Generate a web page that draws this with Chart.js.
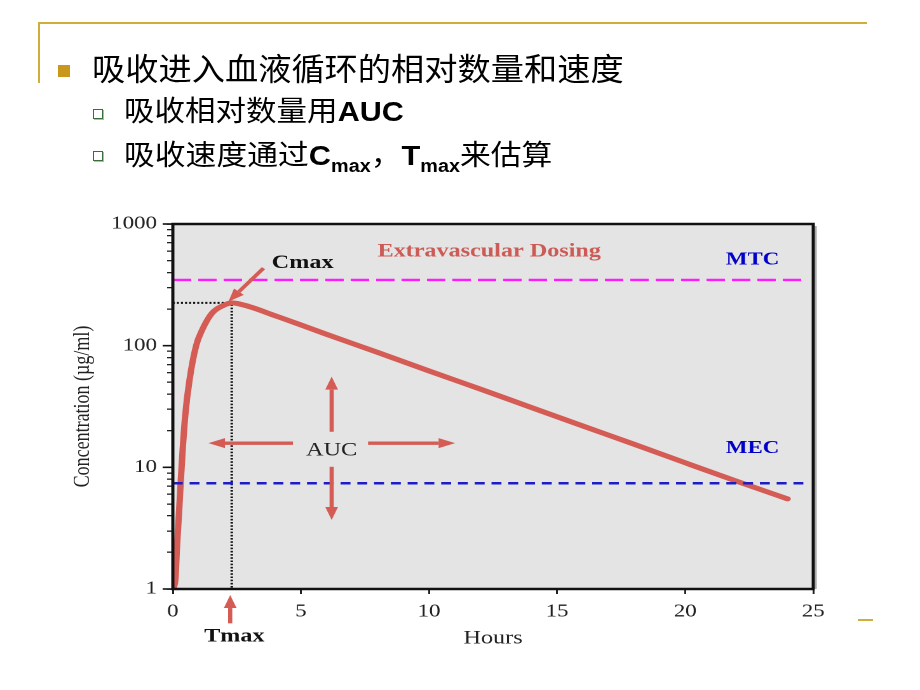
<!DOCTYPE html>
<html>
<head>
<meta charset="utf-8">
<title>吸收进入血液循环的相对数量和速度</title>
<script src="https://cdn.jsdelivr.net/npm/chart.js@4.4.1/dist/chart.umd.min.js"></script>
<style>
  html, body { margin: 0; padding: 0; background: #fff; }
  #slide { position: relative; width: 920px; height: 690px; overflow: hidden; background: #fff; }
  .rule-top { position: absolute; left: 38px; top: 22px; width: 829px; height: 2px; background: #cfae3c; }
  .rule-side { position: absolute; left: 38px; top: 22px; width: 2px; height: 61px; background: #cfae3c; }
  .rule-foot { position: absolute; left: 858px; top: 619px; width: 15px; height: 2px; background: #cfae3c; }
  .bullet { position: absolute; left: 58px; top: 65px; width: 12px; height: 12px; background: #c9971c; }
  .sub-bullet { position: absolute; left: 93px; width: 7.5px; height: 7.5px; border: 1.5px solid #3c6e3c;
                background: #fff; box-shadow: 1px 1px 0 #a9bfa9; }
  .line { position: absolute; white-space: nowrap; transform-origin: 0 50%; color: #000; line-height: 1;
          font-family: "Noto Sans CJK SC", "Liberation Sans", sans-serif; }
  .line b { font-family: "Liberation Sans", Arial, sans-serif; font-weight: bold; }
  .line .sb { font-family: "Liberation Sans", Arial, sans-serif; font-weight: bold; font-size: 18px;
              position: relative; top: 7px; }
  #chartBox { position: absolute; left: 0; top: 0; width: 724px; height: 690px;
              transform: scaleX(1.2707); transform-origin: 0 0; }
</style>
</head>
<body>
<div id="slide">
  <div id="chartBox"><canvas id="pkChart" width="724" height="690"></canvas></div>

  <div class="rule-top"></div>
  <div class="rule-side"></div>
  <div class="rule-foot"></div>

  <div class="bullet"></div>
  <div class="line" style="left:92px; top:51px; font-size:31px; transform:scaleX(1.072);">吸收进入血液循环的相对数量和速度</div>

  <div class="sub-bullet" style="top:109px;"></div>
  <div class="line" style="left:124px; top:95px; font-size:28px; transform:scaleX(1.09);">吸收相对数量用<b>AUC</b></div>

  <div class="sub-bullet" style="top:151px;"></div>
  <div class="line" style="left:124px; top:139px; font-size:28px; transform:scaleX(1.1);">吸收速度通过<b>C</b><span class="sb">max</span>，<b>T</b><span class="sb">max</span>来估算</div>
</div>

<script>
// plasma concentration after extravascular dosing (ug/ml vs hours)
const hours = [0, 0.1, 0.16, 0.24, 0.31, 0.39, 0.49, 0.65, 0.91, 1.14, 1.53, 1.97, 2.3, 3, 4, 5, 6, 8, 10, 12, 14, 16, 18, 20, 22, 24];
const concentration = [1, 1.2, 2.2, 4.2, 7.7, 14.6, 27.5, 52, 100, 134, 185, 214, 225, 209, 176, 148, 124, 88, 62, 44, 31, 21.9, 15.5, 10.9, 7.7, 5.5];

// therapeutic window
const mtcLevel = 347;
const mecLevel = 7.4;
const mtcEnd = 24.68;
const mecEnd = 24.8;

// peak
const cmax = 225;
const tmax = 2.3;

// axes
const xTicks = [0, 5, 10, 15, 20, 25];
const yMajorTicks = [1, 10, 100, 1000];
const yMinorSteps = [2, 3, 4, 5, 6, 7, 8, 9];

// notes and arrows, placed in data units (hours, ug/ml)
const RED = '#d55b55';
const notes = [
  { text: 'Extravascular Dosing', at: [12.35, 594], font: 'bold 19px "Liberation Serif"', color: '#cc5a55' },
  { text: 'MTC', at: [22.63, 506], font: 'bold 18px "Liberation Serif"', color: '#0000c8' },
  { text: 'MEC', at: [22.63, 14.3], font: 'bold 18px "Liberation Serif"', color: '#0000c8' },
  { text: 'Cmax', at: [5.07, 475], font: 'bold 19px "Liberation Serif"', color: '#111' },
  { text: 'Tmax', at: [2.4, 0.405], font: 'bold 19px "Liberation Serif"', color: '#111' },
  { text: 'AUC', at: [6.2, 13.7], font: '19px "Liberation Serif"', color: '#222' }
];
const arrows = [
  { from: [3.54, 433], to: [2.17, 230] },    // to Cmax
  { from: [2.24, 0.522], to: [2.24, 0.892] }, // up to Tmax
  { from: [4.69, 15.8], to: [1.39, 15.8] },  // AUC left
  { from: [7.62, 15.8], to: [11.02, 15.8] }, // AUC right
  { from: [6.2, 19.6], to: [6.2, 55.6] },    // AUC up
  { from: [6.2, 10.1], to: [6.2, 3.69] }     // AUC down
];

function drawArrow(ctx, x1, y1, x2, y2) {
  const head = 13, half = 5;
  const ang = Math.atan2(y2 - y1, x2 - x1);
  const bx = x2 - head * Math.cos(ang);
  const by = y2 - head * Math.sin(ang);
  ctx.strokeStyle = RED;
  ctx.fillStyle = RED;
  ctx.lineWidth = 3.3;
  ctx.beginPath();
  ctx.moveTo(x1, y1);
  ctx.lineTo(bx, by);
  ctx.stroke();
  ctx.beginPath();
  ctx.moveTo(x2, y2);
  ctx.lineTo(bx + half * Math.sin(ang), by - half * Math.cos(ang));
  ctx.lineTo(bx - half * Math.sin(ang), by + half * Math.cos(ang));
  ctx.closePath();
  ctx.fill();
}

const pkNotes = {
  id: 'pkNotes',
  beforeDraw(chart) {
    const { ctx, chartArea: a } = chart;
    ctx.save();
    ctx.fillStyle = '#e4e4e4';
    ctx.fillRect(a.left, a.top, a.right - a.left, a.bottom - a.top);
    ctx.restore();
  },
  afterDatasetsDraw(chart) {
    const { ctx, chartArea: a, scales: { y } } = chart;
    ctx.save();
    // shadow + frame
    ctx.strokeStyle = '#aaa';
    ctx.lineWidth = 1.5;
    ctx.beginPath();
    ctx.moveTo(a.right + 2, a.top + 2);
    ctx.lineTo(a.right + 2, a.bottom);
    ctx.stroke();
    ctx.strokeStyle = '#111';
    ctx.lineWidth = 2.5;
    ctx.strokeRect(a.left, a.top, a.right - a.left, a.bottom - a.top);
    // longer marks for the decades
    ctx.lineWidth = 1.6;
    yMajorTicks.forEach(v => {
      const py = y.getPixelForValue(v);
      ctx.beginPath();
      ctx.moveTo(a.left - 8, py);
      ctx.lineTo(a.left, py);
      ctx.stroke();
    });
    ctx.restore();
  },
  afterDraw(chart) {
    const { ctx, scales: { x, y } } = chart;
    ctx.save();
    arrows.forEach(ar => drawArrow(ctx,
      x.getPixelForValue(ar.from[0]), y.getPixelForValue(ar.from[1]),
      x.getPixelForValue(ar.to[0]), y.getPixelForValue(ar.to[1])));
    ctx.textAlign = 'center';
    ctx.textBaseline = 'middle';
    notes.forEach(n => {
      ctx.font = n.font;
      ctx.fillStyle = n.color;
      ctx.fillText(n.text, x.getPixelForValue(n.at[0]), y.getPixelForValue(n.at[1]));
    });
    ctx.restore();
  }
};

const curve = hours.map((h, i) => ({ x: h, y: concentration[i] }));
const tickFont = { family: '"Liberation Serif", "Times New Roman", serif', size: 18 };

new Chart(document.getElementById('pkChart'), {
  type: 'line',
  data: {
    datasets: [
      {
        label: 'MEC',
        data: [{ x: 0, y: mecLevel }, { x: mecEnd, y: mecLevel }],
        borderColor: '#1c1cc8', borderWidth: 2.6, borderDash: [7.8, 5.4],
        pointRadius: 0, order: 1
      },
      {
        label: 'MTC',
        data: [{ x: 0, y: mtcLevel }, { x: mtcEnd, y: mtcLevel }],
        borderColor: '#ff1aff', borderWidth: 2.4, borderDash: [14.5, 5.5],
        pointRadius: 0, order: 1
      },
      {
        label: 'Cmax / Tmax',
        data: [{ x: 0, y: cmax }, { x: tmax, y: cmax }, { x: tmax, y: 1 }],
        borderColor: '#111', borderWidth: 2, borderDash: [1.6, 1.6],
        pointRadius: 0, order: 3
      },
      {
        label: 'Extravascular Dosing',
        data: curve,
        borderColor: RED, borderWidth: 5, borderCapStyle: 'round',
        cubicInterpolationMode: 'monotone',
        pointRadius: 0, order: 2
      }
    ]
  },
  options: {
    responsive: false,
    devicePixelRatio: 2,
    animation: false,
    layout: { padding: { top: 224, right: 84, left: 0, bottom: 0 } },
    plugins: { legend: { display: false }, tooltip: { enabled: false } },
    scales: {
      x: {
        type: 'linear',
        min: 0,
        max: 25,
        afterFit: s => { s.height = 101; },
        afterBuildTicks: s => { s.ticks = xTicks.map(v => ({ value: v })); },
        border: { display: false },
        grid: { drawOnChartArea: false, tickLength: 5, color: '#222', lineWidth: 1.5 },
        ticks: { font: tickFont, color: '#222', padding: 7, maxRotation: 0 },
        title: {
          display: true, text: 'Hours', color: '#222',
          font: { family: '"Liberation Serif", serif', size: 19 },
          padding: { top: 0, bottom: 40 }
        }
      },
      y: {
        type: 'logarithmic',
        min: 1,
        max: 1000,
        afterFit: s => { s.width = 136; },
        afterBuildTicks: s => {
          const t = [];
          yMajorTicks.forEach((m, i) => {
            t.push({ value: m });
            if (i < yMajorTicks.length - 1) yMinorSteps.forEach(k => t.push({ value: m * k }));
          });
          s.ticks = t;
        },
        border: { display: false },
        grid: { drawOnChartArea: false, tickLength: 4.5, color: '#222', lineWidth: 1.3 },
        ticks: {
          font: tickFont, color: '#222', padding: 8, autoSkip: false,
          callback: v => yMajorTicks.includes(v) ? String(v) : ''
        },
        title: {
          display: true, text: 'Concentration (µg/ml)', color: '#222',
          font: { family: '"Liberation Serif", serif', size: 18 },
          padding: { top: 54.5, bottom: 0 }
        }
      }
    }
  },
  plugins: [pkNotes]
});
</script>
</body>
</html>
